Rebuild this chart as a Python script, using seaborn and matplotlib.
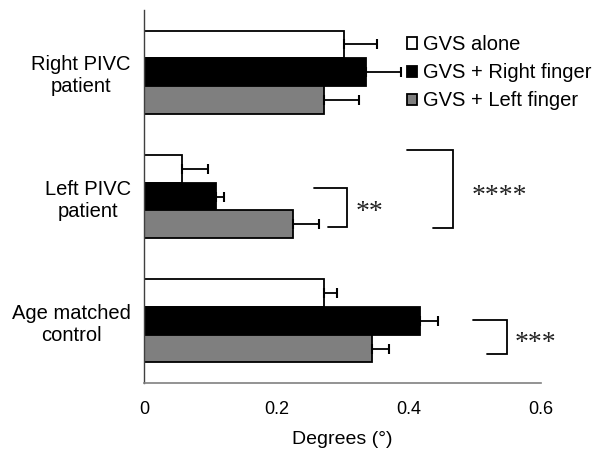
import pandas as pd
import matplotlib.pyplot as plt
import seaborn as sns

groups = ["Right PIVC\npatient", "Left PIVC\npatient", "Age matched\ncontrol"]
conditions = ["GVS alone", "GVS + Right finger", "GVS + Left finger"]
means = {
    "GVS alone": [0.302, 0.057, 0.272],
    "GVS + Right finger": [0.336, 0.109, 0.417],
    "GVS + Left finger": [0.272, 0.225, 0.345],
}
errors = {
    "GVS alone": [0.050, 0.040, 0.020],
    "GVS + Right finger": [0.053, 0.012, 0.027],
    "GVS + Left finger": [0.053, 0.040, 0.025],
}
colors = ["white", "black", "#7f7f7f"]

rows = []
for c in conditions:
    for g, m in zip(groups, means[c]):
        rows.append({"group": g, "condition": c, "degrees": m})
df = pd.DataFrame(rows)

sns.set_style("white")
plt.rcParams["font.family"] = ["Liberation Sans", "DejaVu Sans"]
plt.rcParams["text.color"] = "black"
plt.rcParams["xtick.color"] = "black"
plt.rcParams["ytick.color"] = "black"
plt.rcParams["axes.labelcolor"] = "black"

fig = plt.figure(figsize=(5.97, 4.51), dpi=100)
ax = fig.add_axes([0.2412, 0.1508, 0.665, 0.827])

sns.barplot(data=df, x="degrees", y="group", hue="condition", hue_order=conditions,
            order=groups, palette=colors, edgecolor="black", linewidth=1.3,
            width=0.67, errorbar=None, orient="h", ax=ax, legend=True)

# one-sided error bars from the bar ends
for cont, c in zip(ax.containers, conditions):
    ys = [b.get_y() + b.get_height() / 2 for b in cont]
    xs = [b.get_width() for b in cont]
    ax.errorbar(xs, ys, xerr=[[0] * len(xs), errors[c]], fmt="none",
                ecolor="black", elinewidth=1.3, capsize=3.5, capthick=1.5)

ax.set_xlim(0, 0.6)
ax.set_ylim(2.5, -0.5)
ax.set_xticks([0, 0.2, 0.4, 0.6])
ax.set_xticklabels(["0", "0.2", "0.4", "0.6"], fontsize=13)
ax.set_xlabel("Degrees (°)", fontsize=14, labelpad=9)
ax.set_ylabel("")
ax.tick_params(axis="y", length=0, labelsize=14.5, pad=9.5)
for lab in ax.get_yticklabels():
    lab.set_multialignment("center")
ax.tick_params(axis="x", direction="in", length=5, color="#808080", pad=13)
sns.despine(ax=ax)
ax.spines["bottom"].set_color("#808080")
ax.spines["left"].set_color("#404040")
ax.spines["bottom"].set_linewidth(1.2)
ax.spines["left"].set_linewidth(1.0)

ax.legend(loc="upper left", bbox_to_anchor=(0.663, 0.932), frameon=False,
          fontsize=14.5, handlelength=0.5, handleheight=0.5, handletextpad=0.3,
          labelspacing=0.45, borderpad=0, borderaxespad=0)

# significance brackets
def bracket(x0, x1, xv, y0, y1, label, tx, ty):
    ax.plot([x0, xv, xv, x1], [y0, y0, y1, y1], color="black", lw=1.3,
            clip_on=False, solid_joinstyle="miter")
    ax.text(tx, ty, label, fontsize=20, family="Liberation Serif",
            ha="center", va="center", color="#222222")

bracket(0.257, 0.278, 0.307, 0.932, 1.245, "**", 0.341, 1.13)
bracket(0.397, 0.437, 0.467, 0.626, 1.253, "****", 0.537, 1.0)
bracket(0.497, 0.518, 0.549, 1.993, 2.267, "***", 0.592, 2.18)

fig.savefig("out.png", dpi=100)
